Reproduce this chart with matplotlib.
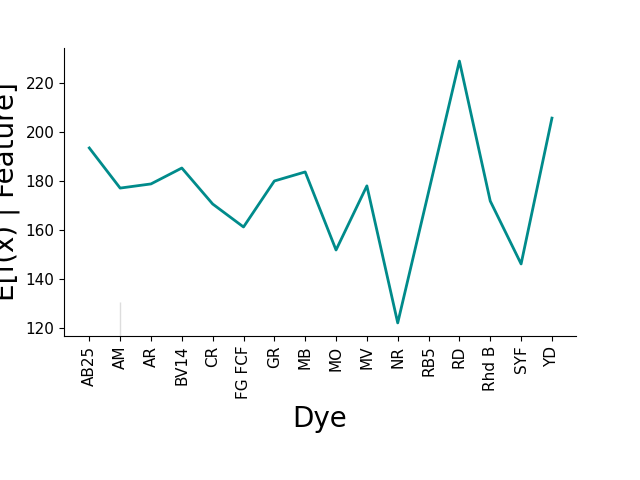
import matplotlib
matplotlib.use("Agg")
import matplotlib.pyplot as plt

dyes = ["AB25", "AM", "AR", "BV14", "CR", "FG FCF", "GR", "MB", "MO", "MV",
        "NR", "RB5", "RD", "Rhd B", "SYF", "YD"]
expected = [193.5, 177.1, 178.8, 185.3, 170.6, 161.2, 180.0, 183.7, 151.8, 178.0,
            122.0, 175.5, 229.0, 171.8, 146.1, 205.7]

# faint marker line at AM
marker_dye = "AM"
marker_top = 130.6

fig, ax = plt.subplots(figsize=(6.4, 4.8), dpi=100)
fig.subplots_adjust(left=0.1, right=0.9, top=0.9, bottom=0.3)

ax.plot(dyes, expected, color="#008b8b", linewidth=2)
ymin, ymax = ax.get_ylim()
ax.vlines(dyes.index(marker_dye), ymin, marker_top, color="#dddddd", linewidth=1, zorder=0)
ax.set_ylim(ymin, ymax)
ax.set_xlim(-0.82, len(dyes) - 0.22)

ax.spines["top"].set_visible(False)
ax.spines["right"].set_visible(False)
ax.tick_params(axis="both", labelsize=11)
ax.tick_params(axis="x", rotation=90)
ax.set_xlabel("Dye", fontsize=20)
ax.set_ylabel("E[f(x) | Feature]", fontsize=20)

fig.savefig("out.png")
